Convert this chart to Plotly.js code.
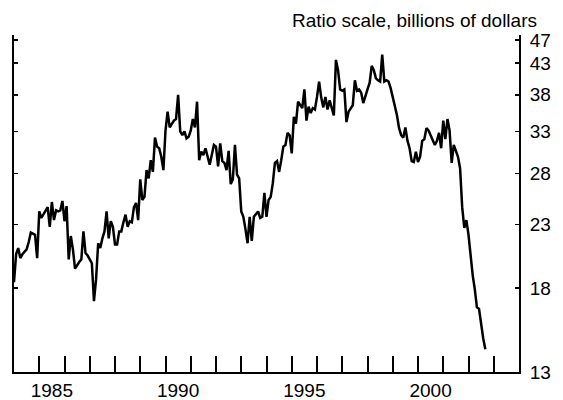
<!DOCTYPE html>
<html>
<head>
<meta charset="utf-8">
<script src="https://cdn.plot.ly/plotly-3.0.1.min.js"></script>
<style>html,body{margin:0;padding:0;background:#fff}#chart{width:563px;height:400px}</style>
</head>
<body>
<div id="chart"></div>
<script>
// Monthly values, billions of dollars, starting January 1984
var startYear = 1984;
var values1984 = [18.4, 20.5, 21.0, 20.2, 20.5, 20.7, 20.9, 21.5, 22.3, 22.2, 22.1, 20.2];
var values1985 = [24.2, 23.6, 23.9, 24.3, 24.6, 22.8, 25.1, 23.4, 24.3, 24.2, 24.3, 25.2];
var values1986 = [23.3, 24.7, 20.1, 22.0, 20.9, 19.4, 19.7, 19.9, 20.1, 22.4, 20.6, 20.4];
var values1987 = [20.1, 19.8, 17.1, 18.6, 21.4, 21.0, 21.8, 22.4, 24.2, 21.8, 23.3, 22.8];
var values1988 = [21.3, 21.3, 22.4, 22.4, 23.2, 23.9, 22.8, 23.3, 23.2, 24.6, 25.0, 23.4];
var values1989 = [27.4, 25.3, 25.6, 28.4, 27.5, 29.5, 28.2, 32.2, 31.1, 30.9, 29.9, 28.4];
var values1990 = [33.1, 35.6, 33.5, 34.0, 34.4, 34.6, 38.0, 33.0, 32.5, 33.0, 32.1, 32.3];
var values1991 = [33.1, 34.6, 33.5, 37.0, 29.5, 30.5, 30.1, 30.9, 29.9, 29.0, 30.1, 31.3];
var values1992 = [31.1, 28.8, 31.5, 29.4, 29.2, 28.4, 30.6, 26.9, 27.4, 31.3, 27.9, 27.5];
var values1993 = [24.2, 23.7, 22.6, 21.4, 23.7, 21.6, 23.7, 24.0, 24.2, 23.6, 23.7, 26.0];
var values1994 = [23.7, 25.3, 25.6, 27.0, 29.2, 29.4, 28.2, 29.5, 31.1, 31.3, 32.8, 32.5];
var values1995 = [30.3, 34.9, 34.0, 37.0, 36.5, 36.1, 38.8, 34.4, 36.3, 35.4, 36.1, 35.9];
var values1996 = [37.7, 40.0, 37.6, 36.2, 37.7, 35.9, 37.2, 36.1, 35.1, 43.5, 41.8, 38.8];
var values1997 = [38.6, 38.8, 34.2, 35.6, 36.1, 36.5, 40.2, 38.6, 38.8, 38.3, 36.8, 38.0];
var values1998 = [38.8, 39.8, 42.5, 41.8, 40.5, 40.2, 40.0, 44.4, 40.0, 40.2, 40.0, 39.0];
var values1999 = [37.7, 36.5, 35.1, 33.4, 32.5, 32.2, 33.5, 31.8, 30.9, 29.4, 29.3, 30.5];
var values2000 = [29.3, 29.9, 31.8, 32.0, 33.4, 33.1, 32.5, 32.0, 31.3, 31.8, 32.8, 30.9];
var values2001 = [34.4, 32.0, 34.6, 33.1, 29.2, 31.3, 30.6, 29.9, 28.6, 24.6, 22.7, 23.4];
var values2002 = [22.1, 20.4, 18.9, 17.9, 16.7, 16.6, 15.6, 14.8, 14.2];

var yTickVals = [13, 18, 23, 28, 33, 38, 43, 47];
var yearTicks = [1985, 1986, 1987, 1988, 1989, 1990, 1991, 1992, 1993, 1994, 1995, 1996, 1997, 1998, 1999, 2000, 2001, 2002, 2003];
var xLabels = ['1985', '1990', '1995', '2000'];
var titleText = 'Ratio scale, billions of dollars';

var values = [].concat(values1984, values1985, values1986, values1987, values1988, values1989,
  values1990, values1991, values1992, values1993, values1994, values1995, values1996,
  values1997, values1998, values1999, values2000, values2001, values2002);
var xs = values.map(function (v, i) { return startYear + i / 12; });
var labelPos = xLabels.map(function (s) { return Number(s) + 0.5; });

var font = 'Liberation Sans, Arial, Helvetica, sans-serif';

var trace = {
  x: xs, y: values, type: 'scatter', mode: 'lines',
  line: {color: '#000', width: 2.5}, hoverinfo: 'skip'
};

var layout = {
  width: 563, height: 400,
  margin: {l: 14, r: 44, t: 35, b: 28, pad: 0},
  paper_bgcolor: '#fff', plot_bgcolor: '#fff',
  showlegend: false,
  font: {family: font, size: 19, color: '#000'},
  title: {
    text: titleText, font: {family: font, size: 19, color: '#000'},
    x: 537 / 563, xanchor: 'right', xref: 'container',
    y: 1 - 20 / 400, yanchor: 'middle', yref: 'container'
  },
  xaxis: {
    range: [1984, 2004], fixedrange: true,
    tickmode: 'array', tickvals: labelPos, ticktext: xLabels,
    ticks: '', showgrid: false, zeroline: false,
    showline: true, linecolor: '#000', linewidth: 2,
    tickfont: {family: font, size: 19, color: '#000'},
    minor: {tickmode: 'array', tickvals: yearTicks, ticks: 'inside', ticklen: 16, tickwidth: 2, tickcolor: '#000', showgrid: false}
  },
  yaxis: {
    type: 'log', side: 'right',
    range: [Math.log10(13), Math.log10(47.9)], fixedrange: true,
    tickmode: 'array', tickvals: yTickVals, ticktext: yTickVals.map(String),
    ticks: 'inside', ticklen: 4, tickwidth: 1.5, tickcolor: '#000',
    showline: true, linecolor: '#000', linewidth: 2, mirror: 'ticks',
    showgrid: false, zeroline: false,
    ticklabelstandoff: 5,
    tickfont: {family: font, size: 19, color: '#000'}
  }
};

Plotly.newPlot('chart', [trace], layout, {staticPlot: true, displayModeBar: false});
</script>
</body>
</html>
